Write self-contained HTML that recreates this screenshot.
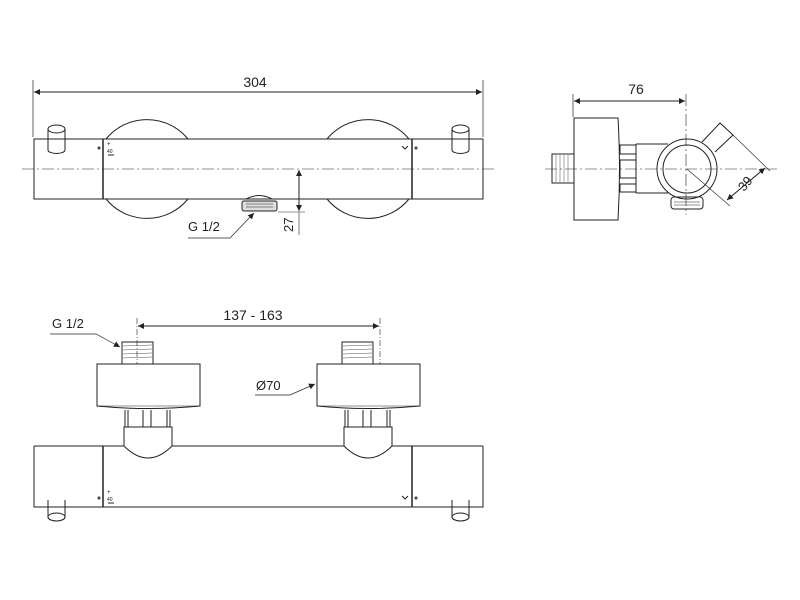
<!DOCTYPE html>
<html><head><style>body{margin:0;background:#fff}svg{display:block}text{font-family:"Liberation Sans",sans-serif;fill:#222}</style></head><body>
<svg width="800" height="600" viewBox="0 0 800 600" xmlns="http://www.w3.org/2000/svg" fill="none" stroke="#222" stroke-width="1">
<defs><marker id="a" viewBox="0 0 10 10" refX="10" refY="5" markerWidth="12" markerHeight="6" orient="auto-start-reverse" markerUnits="userSpaceOnUse"><path d="M0 0L10 5L0 10z" fill="#222" stroke="none"/></marker></defs>

<!-- TOP VIEW -->
<line x1="33" y1="80" x2="33" y2="137" stroke-width="0.7"/>
<line x1="483" y1="80" x2="483" y2="137" stroke-width="0.7"/>
<line x1="34" y1="92" x2="482" y2="92" marker-start="url(#a)" marker-end="url(#a)"/>
<text x="255" y="87" font-size="14" text-anchor="middle" stroke="none">304</text>
<path d="M106 139 A53 53 0 0 1 188 139 M106 199 A53 53 0 0 0 188 199"/>
<path d="M327 139 A53 53 0 0 1 409 139 M327 199 A53 53 0 0 0 409 199"/>
<rect x="34" y="139" width="449" height="60"/>
<line x1="103" y1="139" x2="103" y2="199" stroke-width="1.5"/>
<line x1="412" y1="139" x2="412" y2="199" stroke-width="1.5"/>
<line x1="22" y1="169" x2="495" y2="169" stroke-width="0.6" stroke-dasharray="12,3,2,3"/>
<path d="M48 129 V150 A8.5 3.5 0 0 0 65 150 V129"/><ellipse cx="56.5" cy="129" rx="8.5" ry="4"/>
<path d="M452 129 V150 A8.5 3.5 0 0 0 469 150 V129"/><ellipse cx="460.5" cy="129" rx="8.5" ry="4"/>
<text x="107" y="146" font-size="6" stroke="none">+</text><text x="107" y="153" font-size="5" stroke="none">40</text><line x1="108" y1="155" x2="114" y2="155"/>
<circle cx="99" cy="148" r="1"/><circle cx="416" cy="148" r="1"/>
<path d="M402 146 L405 149 L408 146"/>
<path d="M246 199 Q259 192 272 199" /><rect x="242" y="201" width="35" height="10" rx="2" fill="#ddd"/>
<line x1="246" y1="204" x2="273" y2="204" stroke-width="0.5"/><line x1="246" y1="207" x2="273" y2="207" stroke-width="0.5"/>
<line x1="278" y1="212" x2="305" y2="212" stroke-width="0.6"/>
<line x1="299" y1="170" x2="299" y2="211" marker-start="url(#a)" marker-end="url(#a)"/>
<line x1="299" y1="212" x2="299" y2="235" stroke-width="0.6"/>
<text x="0" y="0" font-size="13" stroke="none" transform="translate(293,232) rotate(-90)">27</text>
<text x="188" y="231" font-size="13" stroke="none">G 1/2</text>
<polyline points="188,238 230,238 254,213" marker-end="url(#a)" stroke-width="0.7"/>

<!-- SIDE VIEW -->
<line x1="573" y1="94" x2="573" y2="117" stroke-width="0.7"/>
<line x1="574" y1="101" x2="685" y2="101" marker-start="url(#a)" marker-end="url(#a)"/>
<text x="636" y="94" font-size="14" text-anchor="middle" stroke="none">76</text>
<path d="M574 118 H618 Q621 169 618 220 H574 Z"/>
<rect x="552" y="154" width="22" height="29"/>
<g stroke-width="0.4"><line x1="556" y1="155" x2="556" y2="182"/><line x1="560" y1="155" x2="560" y2="182"/><line x1="564" y1="155" x2="564" y2="182"/><line x1="568" y1="155" x2="568" y2="182"/></g>
<rect x="620" y="145" width="16" height="9"/><rect x="620" y="160" width="16" height="18"/><rect x="620" y="184" width="16" height="8"/>
<path d="M636 144 H668 M636 193 H668 M636 144 V193"/>
<path d="M702 142 L720 123 L733 135 L715 152"/>
<circle cx="687" cy="169" r="30" fill="#fff"/><circle cx="687" cy="169" r="24"/>
<rect x="671" y="197" width="32" height="12" rx="3"/>
<line x1="674" y1="202" x2="700" y2="202" stroke-width="0.5"/><line x1="674" y1="205" x2="700" y2="205" stroke-width="0.5"/>
<line x1="545" y1="169" x2="778" y2="169" stroke-width="0.6" stroke-dasharray="12,3,2,3"/>
<line x1="686" y1="94" x2="686" y2="215" stroke-width="0.6" stroke-dasharray="12,3,2,3"/>
<line x1="687" y1="169" x2="730" y2="206" stroke-width="0.6"/>
<line x1="733" y1="135" x2="770" y2="171" stroke-width="0.6"/>
<line x1="727" y1="200" x2="765" y2="168" marker-start="url(#a)" marker-end="url(#a)"/>
<text x="0" y="0" font-size="13" stroke="none" transform="translate(744,192) rotate(-50)">39</text>

<!-- BOTTOM VIEW -->
<line x1="137" y1="318" x2="137" y2="364" stroke-width="0.6" stroke-dasharray="6,2,1,2"/>
<line x1="380" y1="318" x2="380" y2="364" stroke-width="0.6" stroke-dasharray="6,2,1,2"/>
<line x1="138" y1="326" x2="379" y2="326" marker-start="url(#a)" marker-end="url(#a)"/>
<text x="253" y="320" font-size="14" text-anchor="middle" stroke="none">137 - 163</text>
<text x="52" y="328" font-size="13" stroke="none">G 1/2</text>
<polyline points="50,334 96,334 120,347" marker-end="url(#a)" stroke-width="0.7"/>
<text x="256" y="390" font-size="13" stroke="none">Ø70</text>
<polyline points="255,395 290,395 315,384" marker-end="url(#a)" stroke-width="0.7"/>
<g id="v">
<rect x="122" y="342" width="31" height="22"/>
<g stroke-width="0.4"><line x1="123" y1="346" x2="152" y2="345"/><line x1="123" y1="350" x2="152" y2="349"/><line x1="123" y1="354" x2="152" y2="353"/><line x1="123" y1="358" x2="152" y2="357"/></g>
<path d="M97 364 H200 V406 Q148 411 97 406 Z"/>
<line x1="97" y1="406" x2="200" y2="406" stroke-width="0.5"/>
<path d="M125 410 V427 M128 410 V427 M143 410 V427 M151 410 V427 M167 410 V427 M170 410 V427"/>
<path d="M124 427 H172 V446 Q160 458 148 458 Q136 458 124 446 Z" fill="#fff"/>
</g>
<use href="#v" transform="translate(220,0)"/>
<path d="M34 446 H124 M172 446 H344 M392 446 H483 M483 446 V507 H34 V446"/>
<line x1="103" y1="446" x2="103" y2="507" stroke-width="1.5"/>
<line x1="412" y1="446" x2="412" y2="507" stroke-width="1.5"/>
<text x="107" y="494" font-size="6" stroke="none">+</text><text x="107" y="501" font-size="5" stroke="none">40</text><line x1="108" y1="503" x2="114" y2="503"/>
<circle cx="99" cy="498" r="1"/><circle cx="416" cy="498" r="1"/>
<path d="M402 496 L405 499 L408 496"/>
<path d="M48 500 V517 A8.5 4 0 0 0 65 517 V500"/><ellipse cx="56.5" cy="517" rx="8.5" ry="4"/>
<path d="M452 500 V517 A8.5 4 0 0 0 469 517 V500"/><ellipse cx="460.5" cy="517" rx="8.5" ry="4"/>
</svg>
</body></html>
